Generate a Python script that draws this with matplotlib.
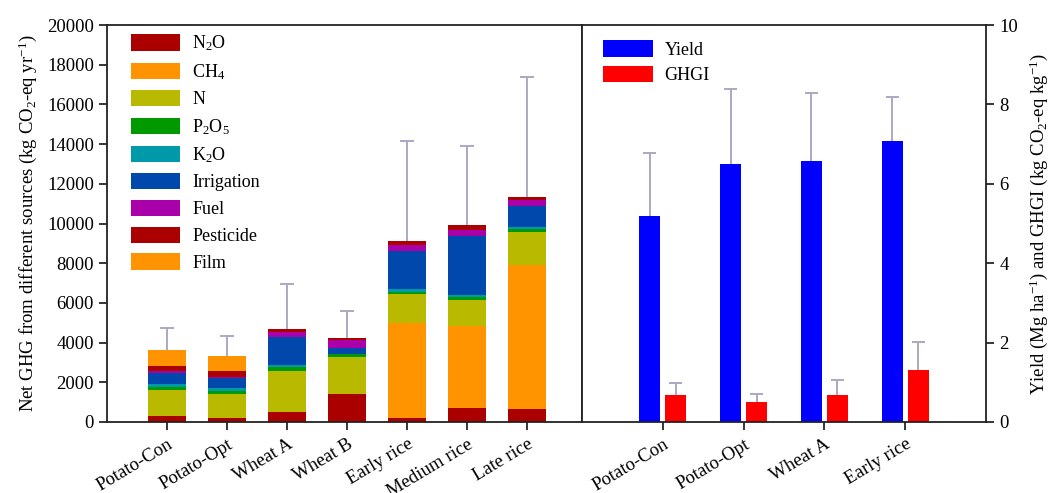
import matplotlib
matplotlib.use("Agg")
import matplotlib.pyplot as plt
import numpy as np
from matplotlib.patches import Patch

plt.rcParams['font.family'] = ['Liberation Serif', 'DejaVu Serif']
plt.rcParams['mathtext.fontset'] = 'custom'
plt.rcParams['mathtext.rm'] = 'Liberation Serif'
plt.rcParams['mathtext.it'] = 'Liberation Serif:italic'

# ---------------- data ----------------
crops = ["Potato-Con", "Potato-Opt", "Wheat A", "Wheat B", "Early rice", "Medium rice", "Late rice"]
source_labels = ["N$_2$O", "CH$_4$", "N", "P$_2$O$_5$", "K$_2$O", "Irrigation", "Fuel", "Pesticide", "Film"]
n2o = [300, 200, 500, 1420, 200, 700, 650]
ch4 = [0, 0, 0, 0, 4800, 4120, 7270]
nfert = [1300, 1210, 2060, 1850, 1440, 1340, 1670]
p2o5 = [170, 150, 200, 140, 130, 140, 120]
k2o = [150, 150, 100, 40, 120, 100, 100]
irrigation = [560, 490, 1400, 300, 1900, 2980, 1060]
fuel = [90, 90, 280, 370, 320, 300, 300]
pesticide = [250, 270, 150, 100, 200, 240, 190]
film = [790, 790, 0, 0, 0, 0, 0]
ghg_err = [1130, 960, 2270, 1380, 5040, 3960, 6030]

yield_crops = ["Potato-Con", "Potato-Opt", "Wheat A", "Early rice"]
yield_vals = [5.19, 6.50, 6.58, 7.08]
yield_err = [1.58, 1.89, 1.71, 1.10]
ghgi_vals = [0.68, 0.50, 0.68, 1.30]
ghgi_err = [0.30, 0.20, 0.37, 0.72]

source_colors = ["#AA0000", "#FF9400", "#B9B900", "#009A00", "#0099AA",
                 "#0048AC", "#AA00AA", "#AA0000", "#FF9400"]
err_color = "#A9A9C2"

# ---------------- figure ----------------
fig = plt.figure(figsize=(10.56, 4.93), dpi=100)
axL = fig.add_axes([107/1056, 71/493, 475/1056, 397/493])
axR = fig.add_axes([582/1056, 71/493, 404/1056, 397/493])

series = [n2o, ch4, nfert, p2o5, k2o, irrigation, fuel, pesticide, film]
x = np.arange(len(crops))
bottom = np.zeros(len(crops))
for vals, col in zip(series, source_colors):
    v = np.array(vals, dtype=float)
    axL.bar(x, v, 0.62, bottom=bottom, color=col, edgecolor='none', zorder=2)
    bottom += v
tops = bottom
errs = np.array(ghg_err, dtype=float)
axL.vlines(x, tops, tops + errs, color=err_color, lw=1.4, zorder=1)
axL.hlines(tops + errs, x - 0.115, x + 0.115, color=err_color, lw=1.4, zorder=1)

axL.set_xlim(-1, 6.917)
axL.set_ylim(0, 20000)
axL.set_yticks(np.arange(0, 20001, 2000))
axL.set_xticks(x)
axL.set_xticklabels(crops, rotation=31, ha='right', rotation_mode='anchor')
axL.set_ylabel("Net GHG from different sources (kg CO$_2$-eq yr$^{-1}$)", fontsize=13.5, labelpad=6)
axL.tick_params(axis='both', labelsize=13.5, length=6, width=1.1, direction='out')
axL.tick_params(axis='x', pad=4)
for s in axL.spines.values():
    s.set_linewidth(1.3)
    s.set_color('#222222')

handles = [Patch(facecolor=c, edgecolor='none') for c in source_colors]
axL.legend(handles, source_labels, loc='upper left', bbox_to_anchor=(0.05, 0.978),
           frameon=False, fontsize=13, handlelength=2.75, handleheight=1.0,
           handletextpad=0.65, labelspacing=0.47, borderpad=0, borderaxespad=0)

# right panel
xr = np.arange(len(yield_crops))
off = 0.16
w = 0.26
axR.bar(xr - off, yield_vals, w, color="#0000FF", edgecolor='none', zorder=2, label="Yield")
axR.bar(xr + off, ghgi_vals, w, color="#FF0000", edgecolor='none', zorder=2, label="GHGI")
yv = np.array(yield_vals); ye = np.array(yield_err)
gv = np.array(ghgi_vals); ge = np.array(ghgi_err)
for xs, v, e in [(xr - off, yv, ye), (xr + off, gv, ge)]:
    axR.vlines(xs, v, v + e, color=err_color, lw=1.4, zorder=1)
    axR.hlines(v + e, xs - 0.08, xs + 0.08, color=err_color, lw=1.4, zorder=1)

axR.set_xlim(-1, 4)
axR.set_ylim(0, 10)
axR.set_xticks(xr)
axR.set_xticklabels(yield_crops, rotation=31, ha='right', rotation_mode='anchor')
axR.yaxis.tick_right()
axR.yaxis.set_label_position('right')
axR.set_yticks(np.arange(0, 11, 2))
axR.set_ylabel("Yield (Mg ha$^{-1}$) and GHGI (kg CO$_2$-eq kg$^{-1}$)", fontsize=13.5, labelpad=7)
axR.tick_params(axis='both', labelsize=13.5, length=6, width=1.1, direction='out')
axR.tick_params(axis='x', pad=4)
for s in axR.spines.values():
    s.set_linewidth(1.3)
    s.set_color('#222222')
axR.legend(loc='upper left', bbox_to_anchor=(0.052, 0.961), frameon=False, fontsize=13,
           handlelength=2.75, handleheight=1.0, handletextpad=0.65, labelspacing=0.38,
           borderpad=0, borderaxespad=0)

fig.savefig("out.png", dpi=100)
